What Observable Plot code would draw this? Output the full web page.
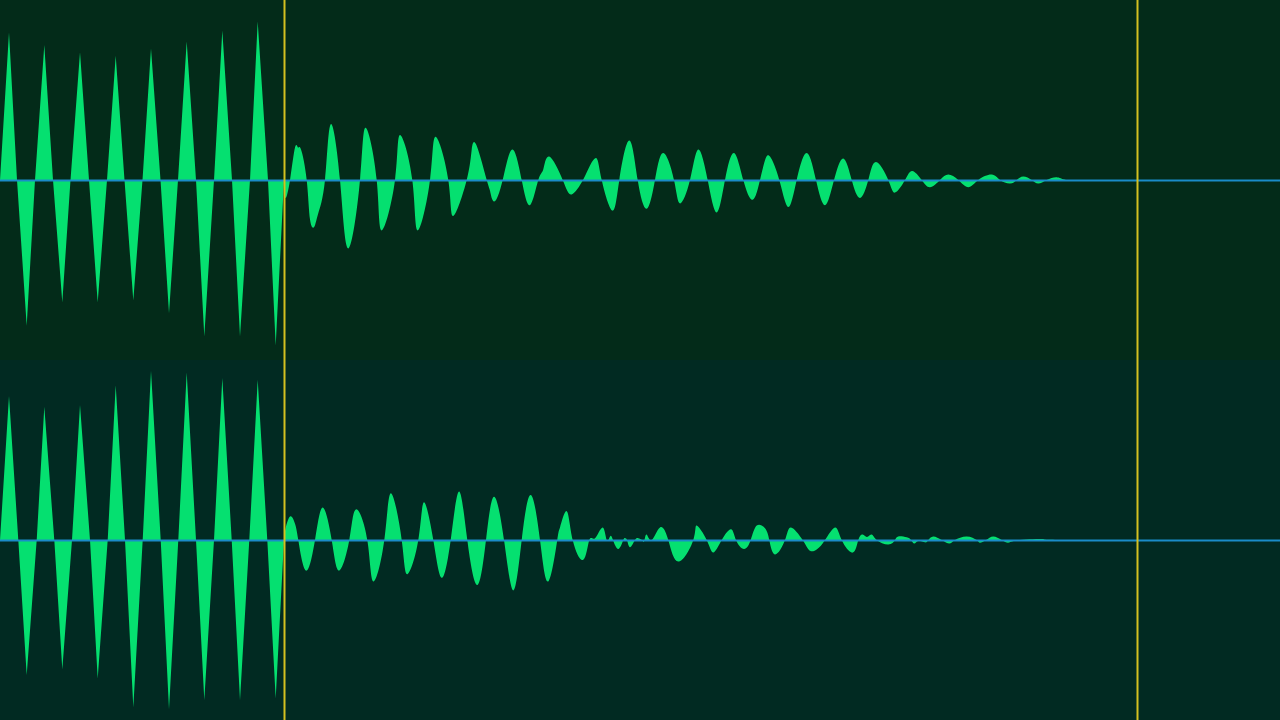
<!DOCTYPE html>
<html>
<head>
<meta charset="utf-8">
<script src="https://cdn.jsdelivr.net/npm/d3@7"></script>
<script src="https://cdn.jsdelivr.net/npm/@observablehq/plot@0.6"></script>
<style>
  html, body { margin: 0; padding: 0; background: #032b19; overflow: hidden; }
  #chart div, #chart svg { display: block; }
</style>
</head>
<body>
<div id="chart"></div>
<script>
// Time (ms) and amplitude (-1..1) for each channel
const leftTimes = [0,9,17,26.7,35,44.3,53,62.3,70.5,80,89,97.7,107,115.7,124.5,133.3,142.5,151,160.5,169,178,186.7,196,204.3,214,222.3,232,240,250,257.7,268,275.7,284,
  284,285.5,290,295,298,301,306.7,310,314.3,318,325,330.7,340,348.3,360,365.7,376.7,381.7,395,400,412.3,417.7,430,435.7,448.3,453.3,466.7,471.7,476.7,486.7,490,494.3,502.7,512.3,521.7,530,538.3,543.3,549.3,562.7,571.7,583,590,596.7,601.7,612.3,619.3,629.3,637.7,646.7,655,663.3,674,680,690,698.3,707.7,716.7,725,734,743.3,752.7,760,765,770,779.3,788.3,796.7,806.7,816,825,834,843.3,851.7,860,868.3,876,888.3,895,905,912.3,921.7,930,940,948.3,958.3,968.3,978.3,991.7,1000,1010,1016.7,1023.3,1031.7,1038.3,1046.7,1056.7,1066,1072,1080,1280];
const leftAmps = [0,0.82,0,-0.81,0,0.75,0,-0.68,0,0.71,0,-0.68,0,0.69,0,-0.67,0,0.73,0,-0.74,0,0.77,0,-0.87,0,0.83,0,-0.87,0,0.88,0,-0.92,0,
  0,-0.10,0,0.18,0.18,0.17,0,-0.22,-0.26,-0.19,0,0.31,0,-0.38,0,0.29,0,-0.28,0,0.25,0,-0.28,0,0.24,0,-0.20,0,0.17,0.19,0,-0.06,-0.12,0,0.17,0,-0.14,0,0.06,0.13,0,-0.08,0,0.08,0.12,0,-0.17,0,0.22,0,-0.16,0,0.15,0,-0.13,0,0.17,0,-0.18,0,0.15,0,-0.11,0,0.11,0.13,0,-0.15,0,0.15,0,-0.14,0,0.12,0,-0.10,0,0.10,0,-0.07,0,0.05,0,-0.04,0,0.03,0,-0.04,0,0.03,0,-0.02,0,0.02,0,-0.02,0,0.015,0,-0.005,0,0];

const rightTimes = [0,9,18.3,26.7,36.7,44.3,54.3,62.3,72,80,90,97.7,107.7,115.7,125,133.3,142.7,151,160.7,169,178.3,186.7,196,204.3,214,222.3,231.7,240,249.3,257.7,267.3,275.7,284,
  284,285,290,295,298.3,306,315,322.7,331.7,339,349.3,356,367.3,373.3,384.3,391,401.7,407.3,418.3,424,433.3,441.7,450.7,459,467.3,477.3,486,494,504,513.3,521.7,530.7,540,548.3,557.3,560,566.7,572.7,583.3,589.3,595,602.7,606.7,610,613,618.3,623.3,625,627,630,635,638.3,642,643.3,644.5,646.7,651.7,660,668.3,678.3,693.3,696.7,706.7,713.3,721.7,731,736,744,750.7,756.7,765,769.3,775,785,791,802.7,810,817.3,825,835,841.7,852.7,858.3,862.7,867,871.7,876.7,888.3,895,898.3,906.7,911,914.3,918.3,925,928.3,933.3,941.7,949.3,955,966.7,976.7,980,986,993.3,1001.7,1008.3,1020,1046.7,1066.7,1280];
const rightAmps = [0,0.80,0,-0.75,0,0.74,0,-0.72,0,0.75,0,-0.77,0,0.86,0,-0.93,0,0.94,0,-0.94,0,0.93,0,-0.89,0,0.90,0,-0.89,0,0.89,0,-0.88,0,
  0,0.05,0.13,0.09,0,-0.17,0,0.18,0,-0.17,0,0.17,0,-0.23,0,0.26,0,-0.19,0,0.21,0,-0.21,0,0.27,0,-0.25,0,0.24,0,-0.28,0,0.25,0,-0.23,0,0.07,0.16,0,-0.11,0,0.01,0.07,0,0.02,0,-0.05,0,0.01,0,-0.04,0,0.01,0,-0.01,0,0.03,0,0.07,0,-0.12,0,0.08,0,-0.07,0,0.06,0,-0.05,0,0.08,0.065,0,-0.08,0,0.07,0,-0.06,-0.05,0,0.07,0,-0.07,0,0.03,0.017,0.03,0,-0.025,0,0.02,0.015,0,-0.02,-0.005,-0.013,0,0.02,0,-0.02,0,0.02,0,-0.015,0,0.02,0,-0.015,0,0.005,0,0];

const attackEnd = 284;           // end of the attack section (ms)
const markerTimes = [284, 1137]; // yellow markers (ms)
const timeDomain = [0, 1280];

const channels = [
  {name: "L", times: leftTimes, amps: leftAmps, bg: "#032b19"},
  {name: "R", times: rightTimes, amps: rightAmps, bg: "#012a22"}
];

const chart = document.getElementById("chart");
for (const ch of channels) {
  const rows = ch.times.map((t, i) => ({t, v: ch.amps[i]}));
  const attack = rows.slice(0, rows.findIndex((d, i) => i > 0 && d.t === attackEnd) + 1);
  const decay = rows.slice(attack.length);
  const svg = Plot.plot({
    width: 1280,
    height: 360,
    margin: 0,
    x: {domain: timeDomain, axis: null},
    y: {domain: [-1, 1], axis: null},
    style: {background: ch.bg, overflow: "visible"},
    marks: [
      Plot.areaY(attack, {x: "t", y: "v", curve: "linear", fill: "#05e070"}),
      Plot.areaY(decay, {x: "t", y: "v", curve: "natural", fill: "#05e070"}),
      Plot.ruleY([0], {stroke: "#1a8cc8", strokeWidth: 2}),
      Plot.ruleX(markerTimes, {stroke: "#d4c020", strokeWidth: 2})
    ]
  });
  chart.appendChild(svg);
}
</script>
</body>
</html>
